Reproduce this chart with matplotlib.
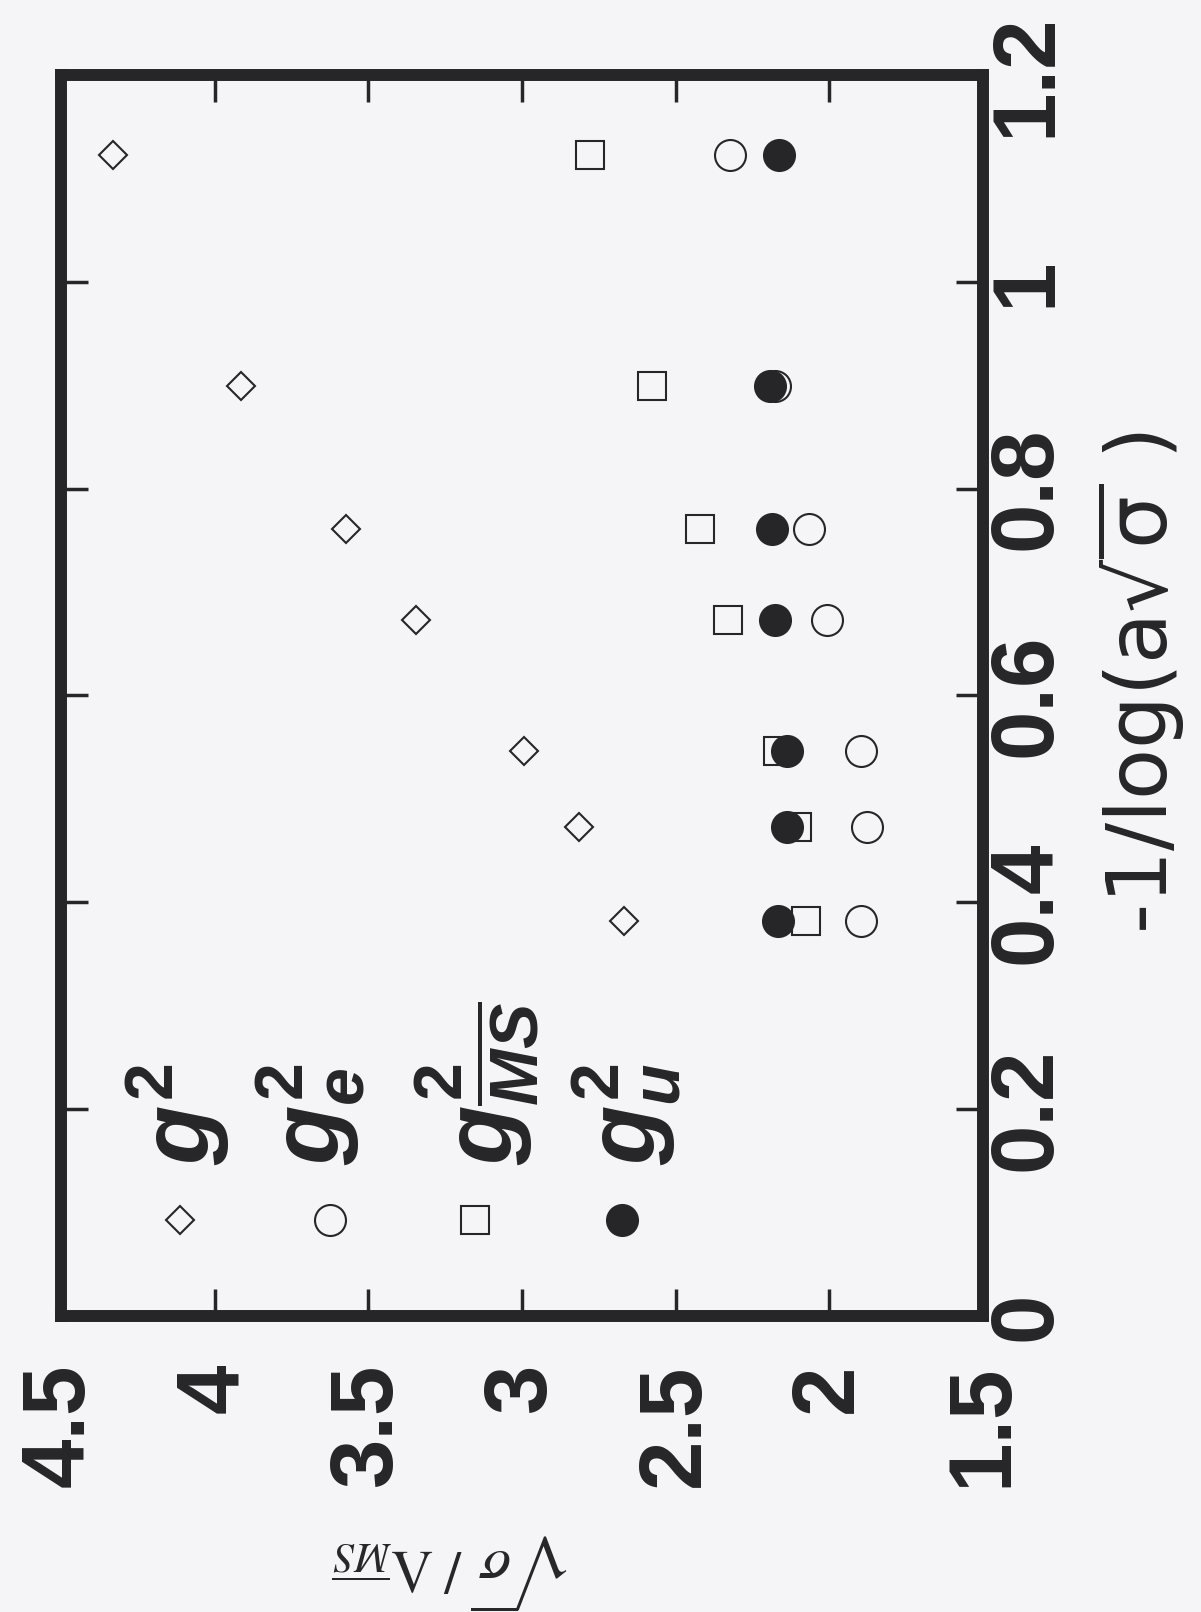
import matplotlib
matplotlib.use("Agg")
import matplotlib.pyplot as plt

# -1/log(a sqrt(sigma)), same for every series
inv_log = [0.382, 0.473, 0.546, 0.673, 0.761, 0.899, 1.123]

# sqrt(sigma)/Lambda_MS for each coupling definition
g2 = [2.669, 2.816, 2.995, 3.344, 3.572, 3.914, 4.331]
ge2 = [1.897, 1.878, 1.897, 2.008, 2.067, 2.178, 2.324]
gms2 = [2.077, 2.106, 2.168, 2.331, 2.422, 2.578, 2.780]
gu2 = [2.168, 2.138, 2.138, 2.178, 2.187, 2.194, 2.164]

ratio_ticks = [4.5, 4, 3.5, 3, 2.5, 2, 1.5]
ratio_labels = ["4.5", "4", "3.5", "3", "2.5", "2", "1.5"]
invlog_ticks = [0, 0.2, 0.4, 0.6, 0.8, 1.0, 1.2]
invlog_labels = ["0", "0.2", "0.4", "0.6", "0.8", "1", "1.2"]

legend_labels = [
    r"$\mathit{g}^{\mathbf{2}}$",
    r"$\mathit{g}^{\mathbf{2}}_{\mathit{e}}$",
    r"$\mathit{g}^{\mathbf{2}}_{\overline{\mathit{MS}}}$",
    r"$\mathit{g}^{\mathbf{2}}_{\mathit{u}}$",
]

plt.rcParams["font.family"] = ["Liberation Sans", "DejaVu Sans"]
plt.rcParams["mathtext.fontset"] = "custom"
plt.rcParams["mathtext.rm"] = "Liberation Sans"
plt.rcParams["mathtext.bf"] = "Liberation Sans:bold"
plt.rcParams["mathtext.it"] = "Liberation Sans:italic:bold"
plt.rcParams["mathtext.sf"] = "Liberation Sans"

ink = "#262628"
paper = "#f5f5f7"

fig = plt.figure(figsize=(12.01, 16.12), dpi=100, facecolor=paper)
ax = fig.add_axes([0.0508, 0.1836, 0.7677, 0.7699])
ax.set_facecolor(paper)

# page is turned: horizontal axis = sqrt(sigma)/Lambda, vertical = -1/log
styles = [
    (g2, "D", 14.5, "none"),
    (ge2, "o", 22.3, "none"),
    (gms2, "s", 20.0, "none"),
    (gu2, "o", 22.3, ink),
]
for vals, mk, ms, fc in styles:
    ax.plot(vals, inv_log, linestyle="none", marker=mk, ms=ms,
            mfc=fc, mec=ink, mew=1.5, clip_on=False)

ax.set_xlim(4.5, 1.5)
ax.set_ylim(0, 1.2)

ax.set_xticks(ratio_ticks)
ax.set_xticklabels(ratio_labels, fontweight="bold")
ax.set_yticks(invlog_ticks)
ax.set_yticklabels(invlog_labels, fontweight="bold")

ax.tick_params(axis="x", direction="in", top=True, bottom=True,
               labelbottom=True, labeltop=False, length=19.5, width=2.5,
               pad=34, labelsize=64, labelrotation=90, color=ink,
               labelcolor=ink)
ax.tick_params(axis="y", direction="in", left=True, right=True,
               labelleft=False, labelright=True, length=19.5, width=2.5,
               pad=2, labelsize=64, labelrotation=90, color=ink,
               labelcolor=ink)
for t in ax.get_yticklabels():
    t.set_verticalalignment("center")

for sp in ax.spines.values():
    sp.set_linewidth(8.6)
    sp.set_color(ink)

# legend, drawn by hand because the whole page is rotated
leg_marker_x = [0.129, 0.292, 0.449, 0.608]
leg_text_x = [0.127, 0.272, 0.452, 0.614]
for (vals, mk, ms, fc), mx, tx, lab in zip(styles, leg_marker_x,
                                          leg_text_x, legend_labels):
    ax.plot([mx], [0.0774], transform=ax.transAxes, linestyle="none",
            marker=mk, ms=ms, mfc=fc, mec=ink, mew=1.5, clip_on=False)
    ax.text(tx, 0.1217, lab, transform=ax.transAxes, rotation=90,
            ha="center", va="bottom", fontsize=70, color=ink)

ax.text(1.17, 0.51, r"-1/log(a$\sqrt{\mathrm{\sigma}}$ )",
        transform=ax.transAxes, rotation=90, ha="center", va="center",
        fontsize=60, color=ink, family="DejaVu Sans",
        math_fontfamily="dejavusans")
ax.text(0.425, -0.207, r"$\sqrt{\sigma}\;/\;\Lambda_{\overline{MS}}$",
        transform=ax.transAxes, rotation=180, ha="center", va="center",
        fontsize=43, color=ink, math_fontfamily="stix")

fig.savefig("out.png", dpi=100, facecolor=paper)
